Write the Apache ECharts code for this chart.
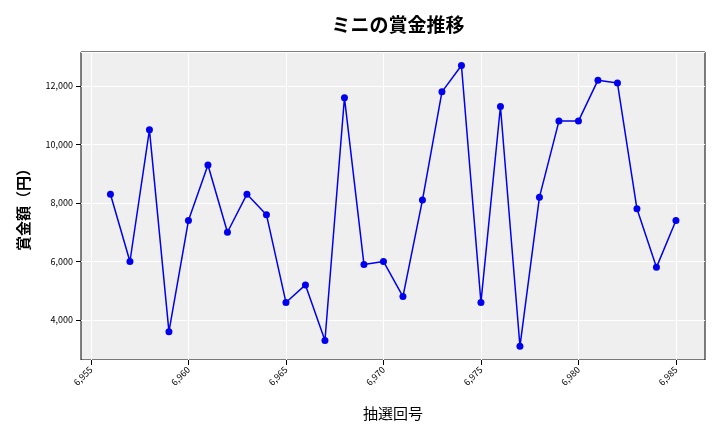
<!DOCTYPE html>
<html><head><meta charset="utf-8">
<script src="https://cdn.jsdelivr.net/npm/echarts@6/dist/echarts.min.js"></script>
<style>html,body{margin:0;padding:0;background:#fff}#c{width:720px;height:432px}</style>
</head><body><div id="c"></div>
<script>
const draws = [6956,6957,6958,6959,6960,6961,6962,6963,6964,6965,6966,6967,6968,6969,6970,6971,6972,6973,6974,6975,6976,6977,6978,6979,6980,6981,6982,6983,6984,6985];
const prizes = [8300,6000,10500,3600,7400,9300,7000,8300,7600,4600,5200,3300,11600,5900,6000,4800,8100,11800,12700,4600,11300,3100,8200,10800,10800,12200,12100,7800,5800,7400];
const xTicks = [6955,6960,6965,6970,6975,6980,6985];
const title = 'ミニの賞金推移';
const xName = '抽選回号', yName = '賞金額（円）';
const font = '"Noto Sans CJK JP", sans-serif';
const chart = echarts.init(document.getElementById('c'));
chart.setOption({
  animation:false,
  title:{text:title,left:393,textAlign:'center',top:10,textStyle:{fontFamily:font,fontSize:19,fontWeight:'bold',color:'#000'}},
  grid:{left:81,right:15,top:52,bottom:72,backgroundColor:'#efefef',show:true,borderWidth:1,borderColor:'#000'},
  xAxis:{type:'value',min:6954.49,max:6986.49,name:xName,nameLocation:'middle',nameGap:46,
    nameTextStyle:{fontFamily:font,fontSize:15,color:'#000'},
    axisLine:{show:false},axisTick:{show:true,customValues:xTicks,lineStyle:{color:'#000'}},
    axisLabel:{rotate:45,fontSize:9,color:'#000',fontFamily:font,customValues:xTicks},
    splitLine:{show:true,lineStyle:{color:'#fff'}}},
  yAxis:{type:'value',min:2632,max:13162,name:yName,nameLocation:'middle',nameGap:50,
    nameTextStyle:{fontFamily:font,fontSize:15,color:'#000',fontWeight:'bold'},
    axisLine:{show:false},axisTick:{show:true,lineStyle:{color:'#000'}},
    axisLabel:{fontSize:9,color:'#000',fontFamily:font,showMinLabel:false,showMaxLabel:false,
      formatter:v=>v%2000===0?v.toLocaleString('en-US'):''},
    splitLine:{show:true,lineStyle:{color:'#fff'}}},
  series:[{type:'line',data:draws.map((d,i)=>[d,prizes[i]]),symbol:'circle',symbolSize:7,
    itemStyle:{color:'#0000ee'},lineStyle:{color:'#0000ee',width:1.5}}]
});
</script></body></html>
